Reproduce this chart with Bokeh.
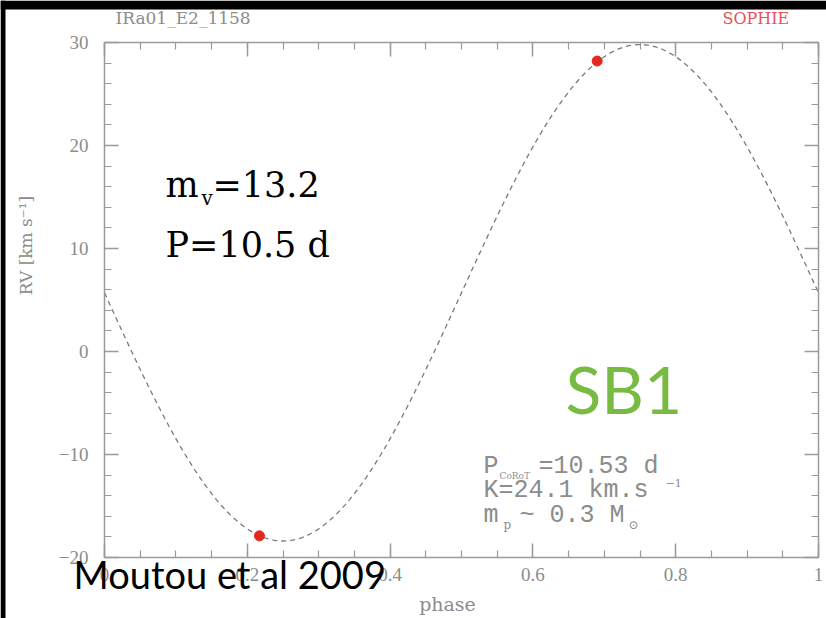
import numpy as np
from bokeh.plotting import figure
from bokeh.models import FixedTicker, LinearAxis, Label, BoxAnnotation, Range1d
from bokeh.embed import file_html
from bokeh.resources import INLINE

# SOPHIE radial velocities folded on the CoRoT period
obs_phase = [0.217, 0.690]
obs_rv = [-17.9, 28.2]

# circular-orbit solution
K_amp = 24.1        # semi-amplitude, km/s
gamma = 5.7         # systemic velocity, km/s
phase_max = 0.75    # phase of maximum velocity

x_ticks = [0, 0.2, 0.4, 0.6, 0.8, 1]
x_labels = ["0", "0.2", "0.4", "0.6", "0.8", "1"]
y_ticks = [-20, -10, 0, 10, 20, 30]
y_labels = ["\u221220", "\u221210", "0", "10", "20", "30"]

W, H = 826, 618
# where the RV box sits on the slide (canvas pixels)
BL, BR, BT, BB = 104, 818, 42, 557
PH0, PH1, RV0, RV1 = 0.0, 1.0, -20.0, 30.0

# the frame spans the whole slide, so the data ranges reach past the box
sx = (PH1 - PH0) / (BR - BL)
sy = (RV1 - RV0) / (BB - BT)
x_range = Range1d(PH0 - BL * sx, PH1 + (W - BR) * sx)
y_range = Range1d(RV0 - (H - BB) * sy, RV1 + BT * sy)

p = figure(width=W, height=H, x_range=x_range, y_range=y_range,
           output_backend="svg", toolbar_location=None,
           x_axis_location=None, y_axis_location=None,
           min_border=0, min_border_left=0, min_border_right=0,
           min_border_top=0, min_border_bottom=0,
           background_fill_color="white", border_fill_color="white",
           outline_line_color=None)
p.grid.visible = False

AX = "#9a9a9a"
LBL = "#8c8c8c"
SERIF = "Liberation Serif"
HERSHEY = "DejaVu Serif"
PGMONO = "Liberation Mono"

x_minor = [round(v, 2) for v in np.arange(0, 1.0001, 0.05)]
y_minor = list(range(-20, 31, 2))

bottom = LinearAxis(fixed_location=RV0, bounds=(PH0, PH1))
top = LinearAxis(fixed_location=RV1, bounds=(PH0, PH1))
left = LinearAxis(fixed_location=PH0, bounds=(RV0, RV1))
right = LinearAxis(fixed_location=PH1, bounds=(RV0, RV1))
p.add_layout(bottom, "below")
p.add_layout(top, "above")
p.add_layout(left, "left")
p.add_layout(right, "right")

for ax in (bottom, top):
    ax.ticker = FixedTicker(ticks=x_ticks, minor_ticks=x_minor)
    ax.major_label_overrides = dict(zip(x_ticks, x_labels))
for ax in (left, right):
    ax.ticker = FixedTicker(ticks=y_ticks, minor_ticks=y_minor)
    ax.major_label_overrides = dict(zip(y_ticks, y_labels))

for ax in (bottom, top, left, right):
    ax.axis_line_color = AX
    ax.axis_line_width = 1.5
    ax.major_tick_line_color = AX
    ax.minor_tick_line_color = AX
    ax.major_tick_line_width = 1.5
    ax.minor_tick_line_width = 1.2
    ax.major_tick_in = 14
    ax.major_tick_out = 0
    ax.minor_tick_in = 7
    ax.minor_tick_out = 0
    ax.major_label_text_font = SERIF
    ax.major_label_text_font_size = "19px"
    ax.major_label_text_color = LBL

bottom.major_label_standoff = 10
left.major_label_standoff = 16
for ax in (top, right):
    ax.major_label_text_color = None
    ax.major_label_standoff = 0

# orbital model curve
phase = np.linspace(PH0, PH1, 301)
rv_model = gamma + K_amp * np.cos(2 * np.pi * (phase - phase_max))
p.line(phase, rv_model, line_color="#7a7a7a", line_width=1.3, line_dash="5 4")

# measurements
p.scatter(obs_phase, obs_rv, size=10, color="#e3291f", line_color="#e3291f")


def label(px, base, text, size, color="black", font=HERSHEY, **kw):
    """Place a text with its baseline near canvas row `base`."""
    if "text_baseline" not in kw:
        base = base + 0.2 * size
    p.add_layout(Label(x=px, y=base, x_units="canvas", y_units="canvas",
                       text=text, text_font=font, text_font_size=f"{size}px",
                       text_color=color, level="overlay", **kw))


# black edge of the slide
for l, r, t, b in ((0, 5, 0, H), (0, W, 0, 9)):
    p.add_layout(BoxAnnotation(left=l, right=r, top=t, bottom=b,
                               left_units="canvas", right_units="canvas",
                               top_units="canvas", bottom_units="canvas",
                               fill_color="black", fill_alpha=1, line_alpha=0,
                               level="overlay"))

# header
label(115, 24, "IRa01_E2_1158", 17, LBL)
label(722, 24, "SOPHIE", 16, "#e8505a")

# axis titles
label(25, 245, "RV [km s\u207b\u00b9]", 17, LBL,
      angle=np.pi / 2, text_align="center", text_baseline="middle")
label(447, 603, "phase", 19, LBL, text_align="center", text_baseline="middle")

# target summary
label(165, 197, "m", 35)
label(201, 205, "v", 20)
label(212, 197, "=13.2", 35)
label(165, 257, "P=10.5 d", 35)

label(565, 414, "SB1", 66, "#78bb42", "Lato")

# orbit parameters
label(483, 475, "P", 25, LBL, PGMONO)
label(499, 479, "CoRoT", 9, LBL)
label(538, 475, "=10.53  d", 25, LBL, PGMONO)
label(483, 499, "K=24.1  km.s", 25, LBL, PGMONO)
label(665, 484, "\u22121", 11, LBL)
label(483, 524, "m", 25, LBL, PGMONO)
label(503, 529, "p", 12, LBL)
label(519, 524, "~ 0.3 M", 25, LBL, PGMONO)
label(628, 529, "\u2299", 12, LBL)

label(73, 589, "Moutou et al 2009", 38, "black", "Lato")

open("out.html", "w").write(file_html(p, INLINE))
